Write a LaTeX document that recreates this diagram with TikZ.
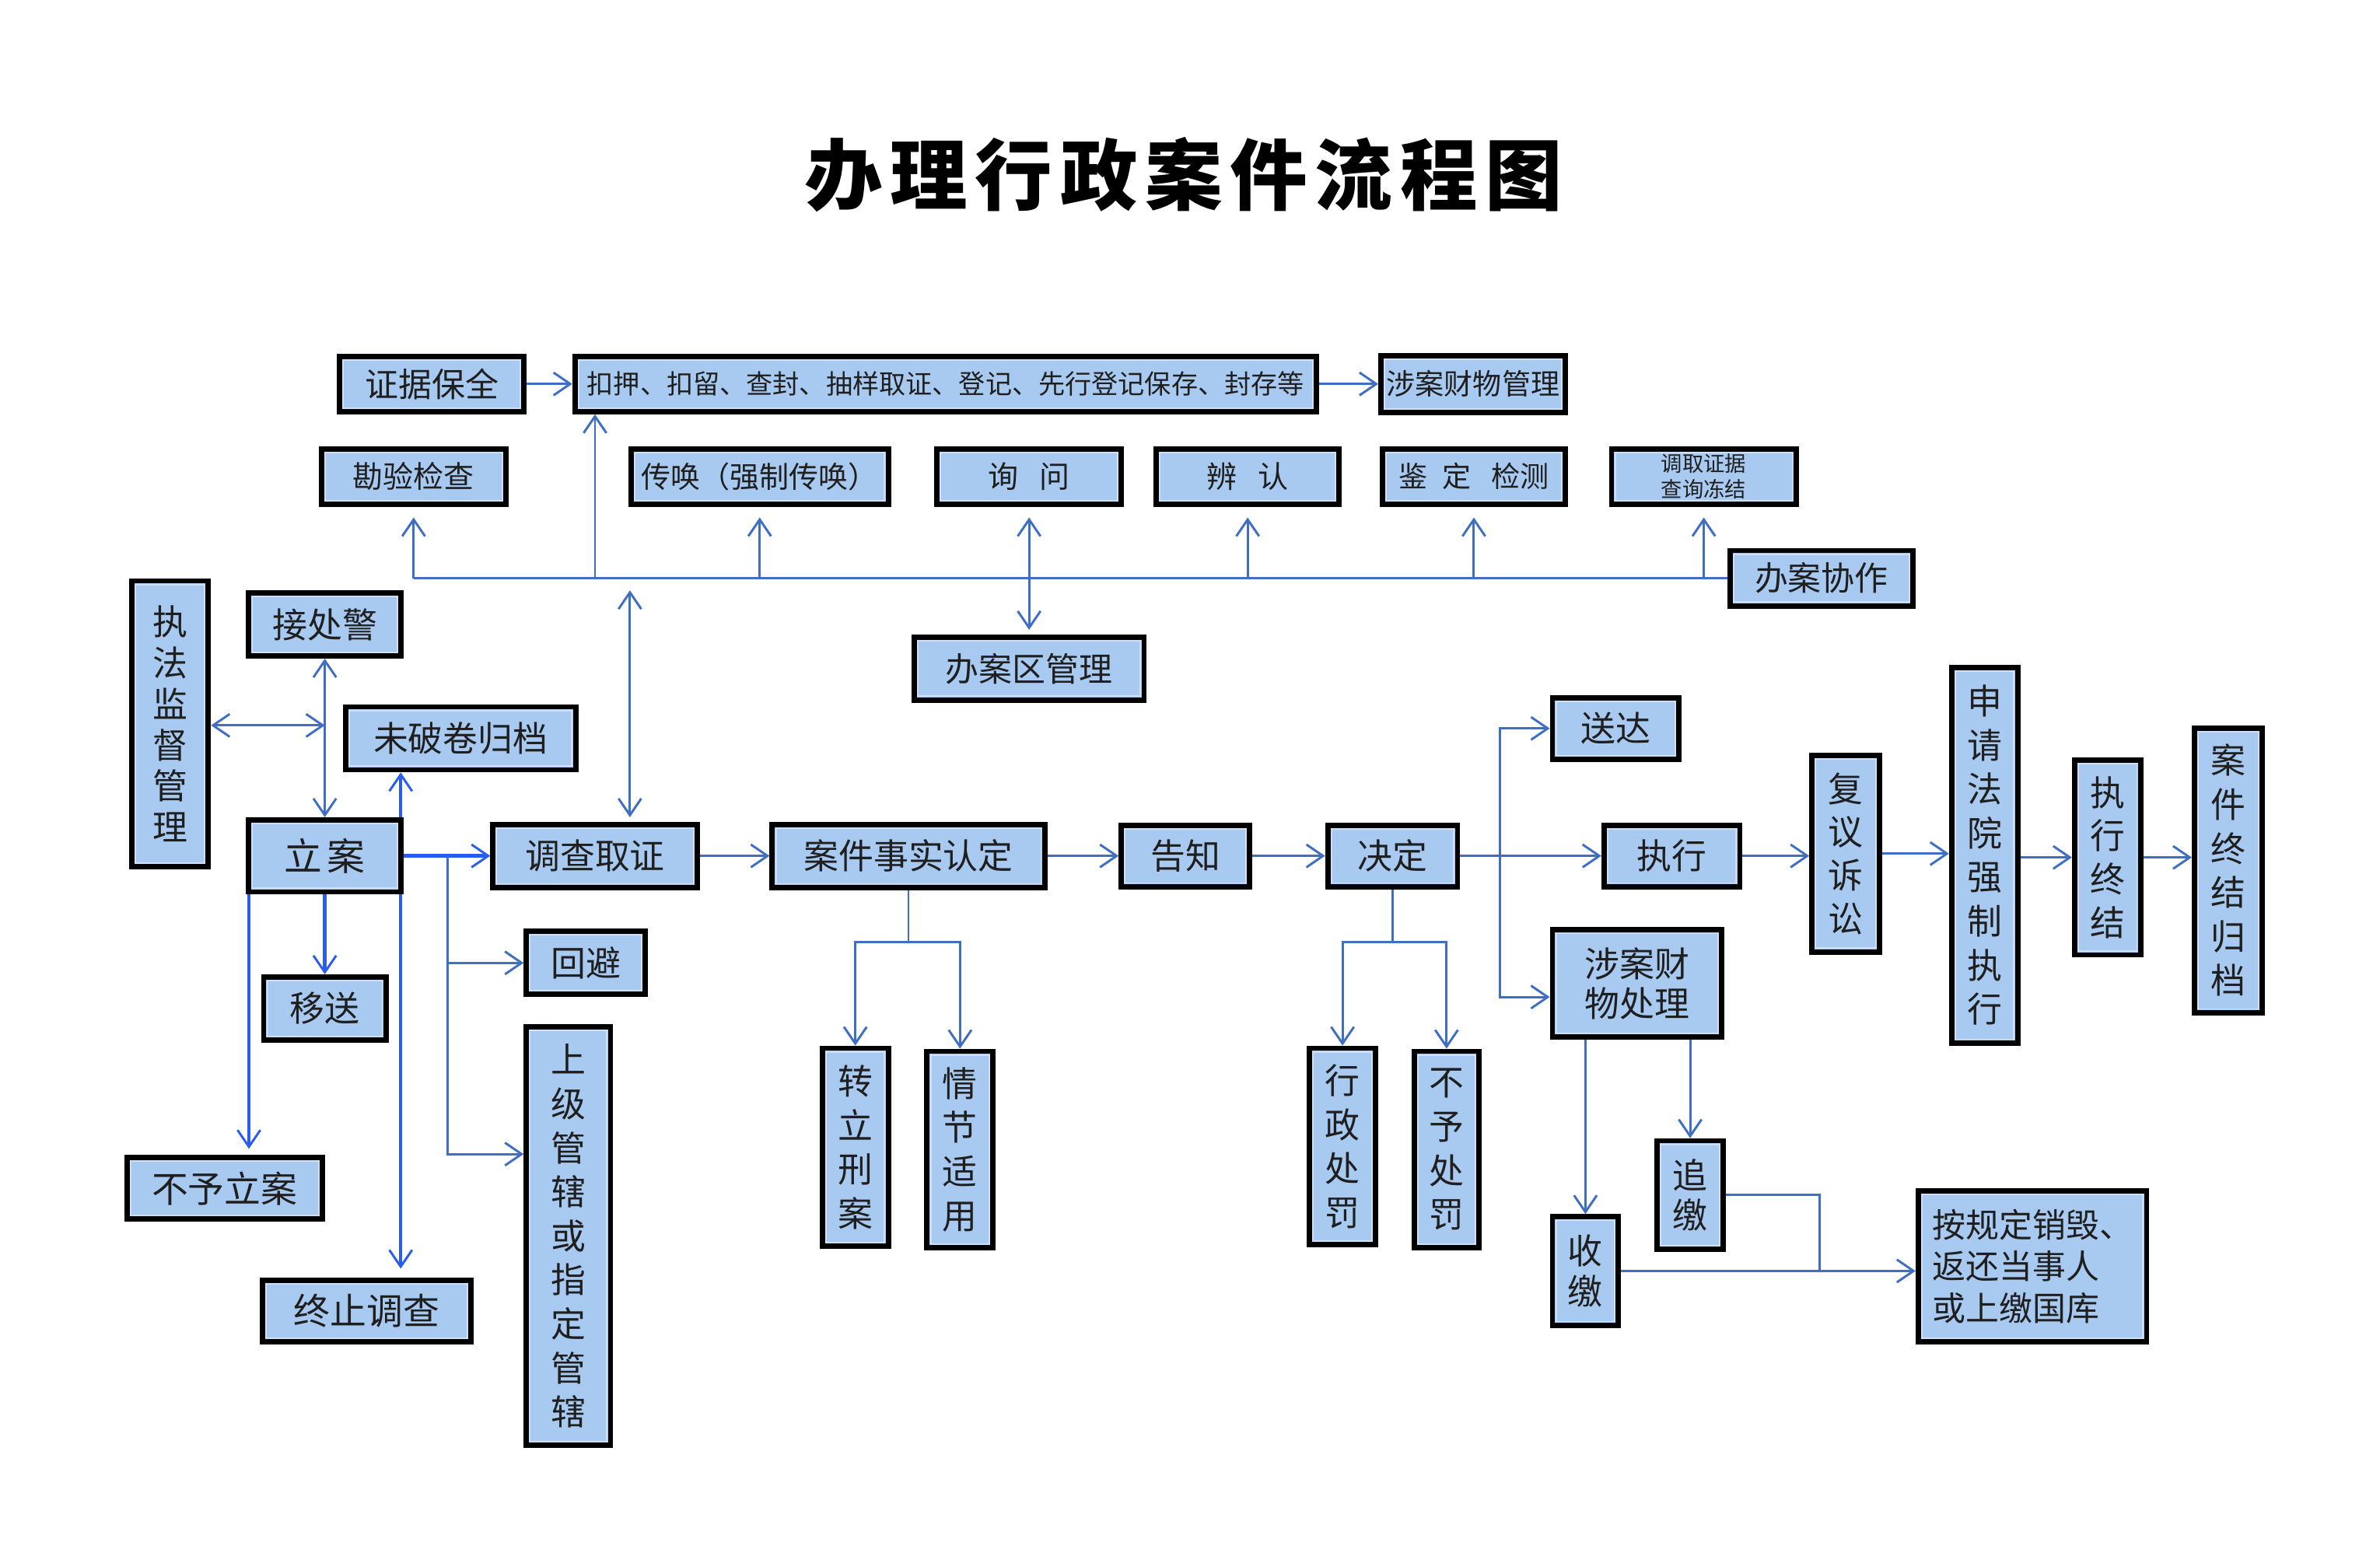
\documentclass[tikz,border=0pt]{standalone}
\usepackage{fontspec}
\setmainfont{Noto Sans CJK SC}
\usetikzlibrary{arrows.meta,calc}
\definecolor{boxfill}{RGB}{168,201,240}
\definecolor{boxinner}{RGB}{205,224,248}
\definecolor{lnblue}{RGB}{63,111,196}
\definecolor{brblue}{RGB}{42,92,240}
\newcommand\bx[7][]{\node[box,minimum width=#5pt-3.5pt,minimum height=#6pt-3.5pt,#1] (#2) at (#3,#4) {#7};}
\begin{document}
\begin{tikzpicture}[x=1pt,y=-1pt,
  box/.style={draw=black,line width=3.5pt,fill=boxfill,inner sep=0pt,align=center,
    font=\fontsize{23}{27}\selectfont,text=black!88,
    path picture={\draw[boxinner,line width=1pt]
      ([shift={(2.4pt,-2.4pt)}]path picture bounding box.north west) rectangle
      ([shift={(-2.4pt,2.4pt)}]path picture bounding box.south east);}},
  vt/.style={font=\fontsize{23}{29}\selectfont},
  tip/.style={},
  ln/.style={draw=lnblue,line width=1.5pt},
  arr/.style={ln,-{Straight Barb[length=11pt,width=15pt]}},
  darr/.style={ln,{Straight Barb[length=11pt,width=15pt]}-{Straight Barb[length=11pt,width=15pt]}},
  barr/.style={draw=brblue,line width=2.3pt,-{Straight Barb[length=11pt,width=15pt,line width=1.5pt]}}]
\fill[white] (0,0) rectangle (1568,1025);
\useasboundingbox (0,0) rectangle (1568,1025);

\node[font=\fontsize{51}{51}\selectfont\bfseries] (title) at (780,115)
  {办\kern5pt理\kern5pt行\kern5pt政\kern5pt案\kern5pt件\kern5pt流\kern5pt程\kern5pt图};

% top rows
\bx[font=\fontsize{22}{26}\selectfont]{zjbq}{284.5}{253}{125}{40}{证据保全}
\bx[font=\fontsize{17.5}{20}\selectfont]{kouya}{623}{253}{492}{40}{扣押、扣留、查封、抽样取证、登记、先行登记保存、封存等}
\bx[font=\fontsize{19}{22}\selectfont]{sacw}{970.5}{253}{125}{41}{涉案财物管理}
\bx[font=\fontsize{20}{24}\selectfont]{kyjc}{272.5}{314}{125}{40}{勘验检查}
\bx[font=\fontsize{19.5}{23}\selectfont]{ch}{500.5}{314}{173}{40}{传唤（强制传唤）}
\bx[font=\fontsize{20}{24}\selectfont]{xw}{678}{314}{125}{40}{询\hspace{0.7em}问}
\bx[font=\fontsize{20}{24}\selectfont]{br}{822}{314}{124}{40}{辨\hspace{0.7em}认}
\bx[font=\fontsize{19}{23}\selectfont]{jd}{971}{314}{124}{40}{鉴\hspace{0.5em}定\hspace{0.7em}检测}
\bx[font=\fontsize{14}{17}\selectfont]{dqzj}{1122.5}{314}{125}{40}{调取证据\\查询冻结}
\bx[font=\fontsize{22}{26}\selectfont]{bacz}{1200}{381}{124}{40}{办案协作}
\bx[font=\fontsize{22}{26}\selectfont]{baq}{678}{440.5}{155}{45}{办案区管理}

% left part
\bx[vt,font=\fontsize{23}{27}\selectfont]{zfjd}{112}{477}{54}{192}{执\\法\\监\\督\\管\\理}
\bx{jcj}{214}{411.5}{104}{45}{接处警}
\bx{wpj}{303.5}{486.5}{155}{45}{未破卷归档}
\bx[font=\fontsize{25}{28}\selectfont]{la}{214}{564}{104}{51}{立\kern3pt案}
\bx{dcqz}{392}{564}{138}{45}{调查取证}
\bx{ys}{214}{664.5}{84}{45}{移送}
\bx[font=\fontsize{24}{28}\selectfont]{byla}{148}{783}{132}{44}{不予立案}
\bx[font=\fontsize{24}{28}\selectfont]{zzdc}{241.5}{864}{141}{44}{终止调查}
\bx{hb}{386}{634.5}{82}{45}{回避}
\bx[vt]{sjgx}{374.5}{814.5}{59}{279}{上\\级\\管\\辖\\或\\指\\定\\管\\辖}

% middle
\bx{ajss}{598.5}{564}{183}{45}{案件事实认定}
\bx{gz}{781}{564}{88}{44}{告知}
\bx{jued}{917.5}{564}{89}{44}{决定}
\bx[vt]{zlxa}{563.5}{756}{47}{134}{转\\立\\刑\\案}
\bx[vt]{qjsy}{632.5}{757.5}{47}{133}{情\\节\\适\\用}
\bx[vt]{xzcf}{884.5}{755.5}{47}{133}{行\\政\\处\\罚}
\bx[vt]{bycf}{953}{757.5}{46}{133}{不\\予\\处\\罚}

% right
\bx{sd}{1064.5}{480}{87}{44}{送达}
\bx{zx}{1101.5}{564}{93}{44}{执行}
\bx[font=\fontsize{23}{26}\selectfont]{sacl}{1078.5}{648}{115}{74}{涉案财\\物处理}
\bx[font=\fontsize{23}{28.5}\selectfont]{fyss}{1216}{562.5}{48}{133}{复\\议\\诉\\讼}
\bx[vt]{sqfy}{1307.5}{563.5}{47}{251}{申\\请\\法\\院\\强\\制\\执\\行}
\bx[font=\fontsize{23}{28.5}\selectfont]{zxzj}{1388.5}{565}{47}{132}{执\\行\\终\\结}
\bx[vt]{ajzj}{1468}{573.5}{48}{191}{案\\件\\终\\结\\归\\档}
\bx[font=\fontsize{23}{27}\selectfont]{sj}{1044.5}{837.5}{47}{75}{收\\缴}
\bx[font=\fontsize{23}{26}\selectfont]{zj}{1113.5}{787.5}{47}{75}{追\\缴}
\bx[font=\fontsize{22}{27.5}\selectfont,align=left]{agd}{1339}{834.5}{154}{103}{按规定销毁、\\返还当事人\\或上缴国库}

% ---- connectors: top
\draw[arr] (zjbq) -- (kouya);
\draw[arr] (kouya) -- (sacw);
\coordinate (hl) at (kyjc.south |- bacz.west);
\draw[ln] (hl) -- (bacz.west);
\foreach \n in {kyjc,ch,br,jd,dqzj} \draw[arr,shorten >=7pt] (\n.south |- hl) -- (\n.south);
\coordinate (kup) at (392,381);
\draw[arr] (kup) -- (kup |- kouya.south);
\draw[darr,shorten <=7pt,shorten >=3pt] (xw.south) -- (baq.north);
\coordinate (dq) at (415,389);
\draw[darr,shorten >=3pt] (dq) -- (dq |- dcqz.north);

% ---- left
\coordinate (jm) at (214,478);
\draw[darr] (jcj.south) -- (la.north);
\draw[darr] (zfjd.east |- jm) -- (jm);
\draw[barr] ([xshift=-2pt]la.north east) -- ([xshift=-2pt]la.north east |- wpj.south);
\draw[barr,shorten >=6pt] ([xshift=-2pt]la.south east) -- ([xshift=-2pt]la.south east |- zzdc.north);
\draw[barr,shorten >=4pt] ([xshift=2pt]la.south west) -- ([xshift=2pt]la.south west |- byla.north);
\draw[barr] (la.south) -- (ys.north);
\draw[barr] (la.east) -- (dcqz.west);
\coordinate (b1) at (295,564);
\draw[arr] (b1) |- (hb.west);
\draw[arr] (b1) |- ([yshift=54pt]sjgx.west);

% ---- main row
\draw[arr] (dcqz) -- (ajss);
\draw[arr] (ajss) -- (gz);
\draw[arr] (gz) -- (jued);
\draw[arr] (jued) -- (zx);
\coordinate (aj1) at (ajss.south |- 0,621);
\draw[ln] (ajss.south) -- (aj1);
\draw[arr] (aj1) -| (zlxa.north);
\draw[arr] (aj1) -| (qjsy.north);
\coordinate (jd1) at (jued.south |- 0,621);
\draw[ln] (jued.south) -- (jd1);
\draw[arr] (jd1) -| (xzcf.north);
\draw[arr] (jd1) -| (bycf.north);
\coordinate (dv) at (988,564);
\draw[arr] (dv) |- (sd.west);
\draw[arr] (dv) |- ([yshift=-9pt]sacl.west);

% ---- right chain
\draw[arr] (zx.east) -- (zx.east -| fyss.west);
\draw[arr] (fyss.east) -- (fyss.east -| sqfy.west);
\draw[arr] (sqfy.east |- zxzj.west) -- (zxzj.west);
\draw[arr] (zxzj.east) -- (zxzj.east -| ajzj.west);
\draw[arr] (sacl.south -| sj.north) -- (sj.north);
\draw[arr] (sacl.south -| zj.north) -- (zj.north);
\coordinate (jn) at (sj.east -| 1199,0);
\draw[arr] (sj.east) -- (sj.east -| agd.west);
\draw[ln] (zj.east) -| (jn);
\end{tikzpicture}
\end{document}
